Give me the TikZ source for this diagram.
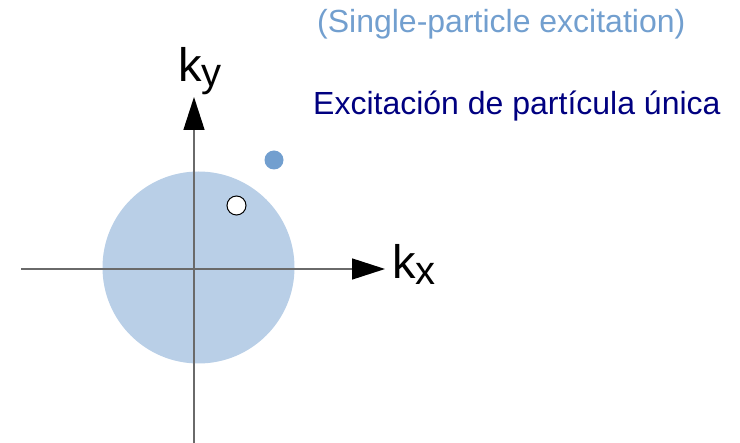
\documentclass[tikz,border=0pt]{standalone}
\usepackage{fontspec}
\setmainfont{Liberation Sans}
\usetikzlibrary{arrows.meta}
\definecolor{seablue}{HTML}{B9CFE7}
\definecolor{partblue}{HTML}{729FCF}
\definecolor{navytext}{HTML}{000080}
\definecolor{axisgray}{HTML}{6A6A6A}

\begin{document}
\begin{tikzpicture}[x=1pt,y=-1pt]
\tikzset{axis/.style={draw=axisgray,line width=1.5pt,-{Triangle[length=33pt,width=21pt,color=black]}},
    dot/.style={circle,minimum size=19pt,inner sep=0pt},
    klabel/.style={inner sep=0pt,anchor=base west,font=\fontsize{47}{50}\selectfont},
    title/.style={inner sep=0pt,anchor=base west,font=\fontsize{32}{36}\selectfont}}
\useasboundingbox (0,0) rectangle (740,443);
% filled Fermi sea with the two momentum axes on top
\node[circle,fill=seablue,minimum size=192pt,inner sep=0pt] (sea) at (198.5,267.5) {};
\coordinate (xfrom) at (21,269);
\coordinate (xto) at (385,269);
\coordinate (yfrom) at (194,443);
\coordinate (yto) at (194,97);
\draw[axis] (xfrom) -- (xto);
\draw[axis] (yfrom) -- (yto);
\node[klabel] (kx) at (392,279) {k\raisebox{-6pt}{\fontsize{40}{40}\selectfont x}};
\node[klabel] (ky) at (178,82) {k\raisebox{-5pt}{\fontsize{40}{40}\selectfont y}};
% hole inside, particle outside
\node[dot,draw=black,fill=white,line width=1pt] (hole) at (236.5,205.5) {};
\node[dot,fill=partblue] (particle) at (274,160) {};
\node[title,text=partblue] (english) at (317,33) {(Single-particle excitation)};
\node[title,text=navytext] (spanish) at (313,115) {Excitación de partícula única};
\end{tikzpicture}
\end{document}
